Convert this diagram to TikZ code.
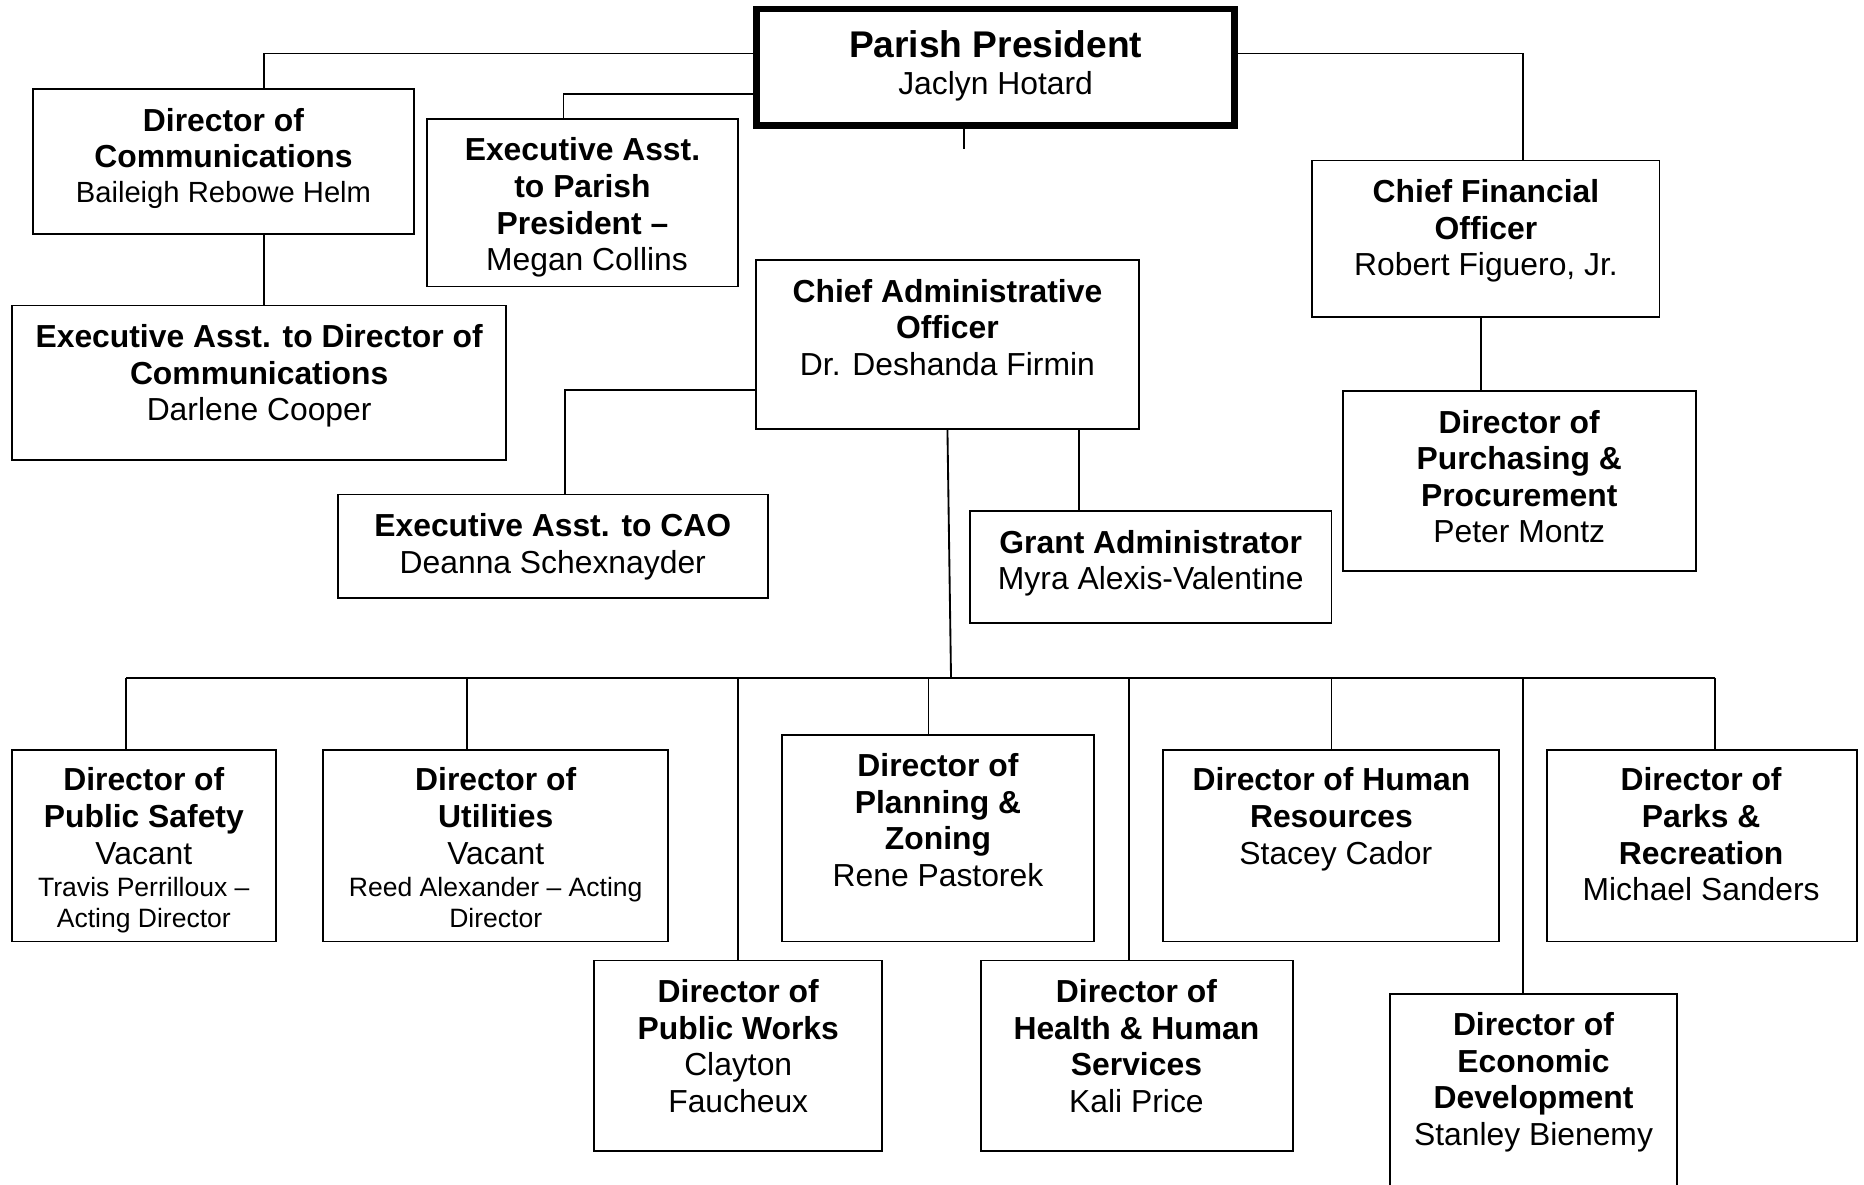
\documentclass[tikz,border=0pt]{standalone}
\usepackage{fontspec}
\setmainfont{Liberation Sans}
\usetikzlibrary{fit}
\newcommand\smalltxt{\fontsize{10}{11.5}\selectfont}
\begin{document}
\begin{tikzpicture}[x=0.448pt,y=-0.448pt,
  orgbox/.style={draw, line width=0.7pt, inner sep=0pt},
  ptxt/.style={anchor=north, align=center, inner sep=0pt, font=\fontsize{12}{13.8}\selectfont},
  link/.style={line width=0.7pt}]
\useasboundingbox[fill=white] (0,0) rectangle (1568,996);
% boxes
\node[orgbox, line width=2.4pt, fit={(636.5,7.5) (1038.5,105.5)}] (pp) {};
\node[orgbox, fit={(28,75) (348,197)}] (dircomm) {};
\node[orgbox, fit={(10,257) (426,387)}] (eadc) {};
\node[orgbox, fit={(359,100) (621,241)}] (eapp) {};
\node[orgbox, fit={(636,219) (958,361)}] (cao) {};
\node[orgbox, fit={(284,416) (646,503)}] (eacao) {};
\node[orgbox, fit={(816,430) (1120,524)}] (grant) {};
\node[orgbox, fit={(1104,135) (1396,267)}] (cfo) {};
\node[orgbox, fit={(1130,329) (1427,480)}] (purch) {};
\node[orgbox, fit={(10,631) (232,792)}] (safety) {};
\node[orgbox, fit={(272,631) (562,792)}] (util) {};
\node[orgbox, fit={(500,808) (742,968)}] (works) {};
\node[orgbox, fit={(658,618) (920,792)}] (plan) {};
\node[orgbox, fit={(825,808) (1088,968)}] (health) {};
\node[orgbox, fit={(978,631) (1261,792)}] (hr) {};
\node[orgbox, fit={(1301,631) (1562,792)}] (parks) {};
\node[orgbox, fit={(1169,836) (1411,1010)}] (econ) {};
% texts
\node[ptxt, font=\fontsize{12}{14.8}\selectfont] (pp-t) at (837.5,25.5) {{\fontsize{14}{16}\selectfont\bfseries Parish President}\\[-0.9pt]Jaclyn Hotard};
\node[ptxt] (dircomm-t) at (188,90.4) {\textbf{Director of}\\\textbf{Communications}\\[-0.6pt]{\fontsize{11}{12.6}\selectfont Baileigh Rebowe Helm}};
\node[ptxt] (eadc-t) at (218,272.4) {\textbf{Executive Asst. to Director of}\\\textbf{Communications}\\Darlene Cooper};
\node[ptxt] (eapp-t) at (490,115.4) {\textbf{Executive Asst.}\\\textbf{to Parish}\\\textbf{President –}\\\hspace*{0.28em}Megan Collins};
\node[ptxt] (cao-t) at (797,234.4) {\textbf{Chief Administrative}\\\textbf{Officer}\\Dr. Deshanda Firmin};
\node[ptxt] (eacao-t) at (465,431.4) {\textbf{Executive Asst. to CAO}\\Deanna Schexnayder};
\node[ptxt] (grant-t) at (968,445.4) {\textbf{Grant Administrator}\\Myra Alexis-Valentine};
\node[ptxt] (cfo-t) at (1250,150.4) {\textbf{Chief Financial}\\\textbf{Officer}\\Robert Figuero, Jr.};
\node[ptxt] (purch-t) at (1278,344.4) {\textbf{Director of}\\\textbf{Purchasing \&}\\\textbf{Procurement}\\Peter Montz};
\node[ptxt] (safety-t) at (121,645.4) {\textbf{Director of}\\\textbf{Public Safety}\\Vacant\\[-1.7pt]{\smalltxt Travis Perrilloux –}\\[-2.1pt]{\smalltxt Acting Director}};
\node[ptxt] (util-t) at (417,645.4) {\textbf{Director of}\\\textbf{Utilities}\\Vacant\\[-1.7pt]{\smalltxt Reed Alexander – Acting}\\[-2.1pt]{\smalltxt Director}};
\node[ptxt] (works-t) at (621,823.4) {\textbf{Director of}\\\textbf{Public Works}\\Clayton\\Faucheux};
\node[ptxt] (plan-t) at (789,633.4) {\textbf{Director of}\\\textbf{Planning \&}\\\textbf{Zoning}\\Rene Pastorek};
\node[ptxt] (health-t) at (956,823.4) {\textbf{Director of}\\\textbf{Health \& Human}\\\textbf{Services}\\Kali Price};
\node[ptxt] (hr-t) at (1120,645.4) {\textbf{Director of Human}\\\textbf{Resources}\\\hspace*{0.28em}Stacey Cador};
\node[ptxt] (parks-t) at (1431,645.4) {\textbf{Director of}\\\textbf{Parks \&}\\\textbf{Recreation}\\Michael Sanders};
\node[ptxt] (econ-t) at (1290,851.4) {\textbf{Director of}\\\textbf{Economic}\\\textbf{Development}\\Stanley Bienemy};
% connectors
\draw[link] (pp.west |- 0,45) -| (dircomm.north -| 222,0);
\draw[link] (pp.west |- 0,79) -| (eapp.north -| 474,0);
\draw[link] (pp.east |- 0,45) -| (cfo.north -| 1281,0);
\coordinate (ppstub) at (811,125);
\draw[link] (pp.south -| ppstub) -- (ppstub);
\draw[link] (dircomm.south -| 222,0) -- (eadc.north -| 222,0);
\draw[link] (cao.west |- 0,328) -| (eacao.north -| 475,0);
\draw[link] (cao.south -| 908,0) -- (grant.north -| 908,0);
\draw[link] (cfo.south -| 1246,0) -- (purch.north -| 1246,0);
\coordinate (busL) at (106,570);
\coordinate (busR) at (1443,570);
\coordinate (busC) at (800,570);
\draw[link] (cao.south) -- (busC);
\draw[link] (busL) -- (busR);
\draw[link] (busL) -- (safety.north -| busL);
\draw[link] (busL -| 393,0) -- (util.north -| 393,0);
\draw[link] (busL -| 621,0) -- (works.north -| 621,0);
\draw[link] (busL -| 781,0) -- (plan.north -| 781,0);
\draw[link] (busL -| 950,0) -- (health.north -| 950,0);
\draw[link] (busL -| 1120,0) -- (hr.north -| 1120,0);
\draw[link] (busL -| 1281,0) -- (econ.north -| 1281,0);
\draw[link] (busR) -- (parks.north -| busR);
\end{tikzpicture}
\end{document}
